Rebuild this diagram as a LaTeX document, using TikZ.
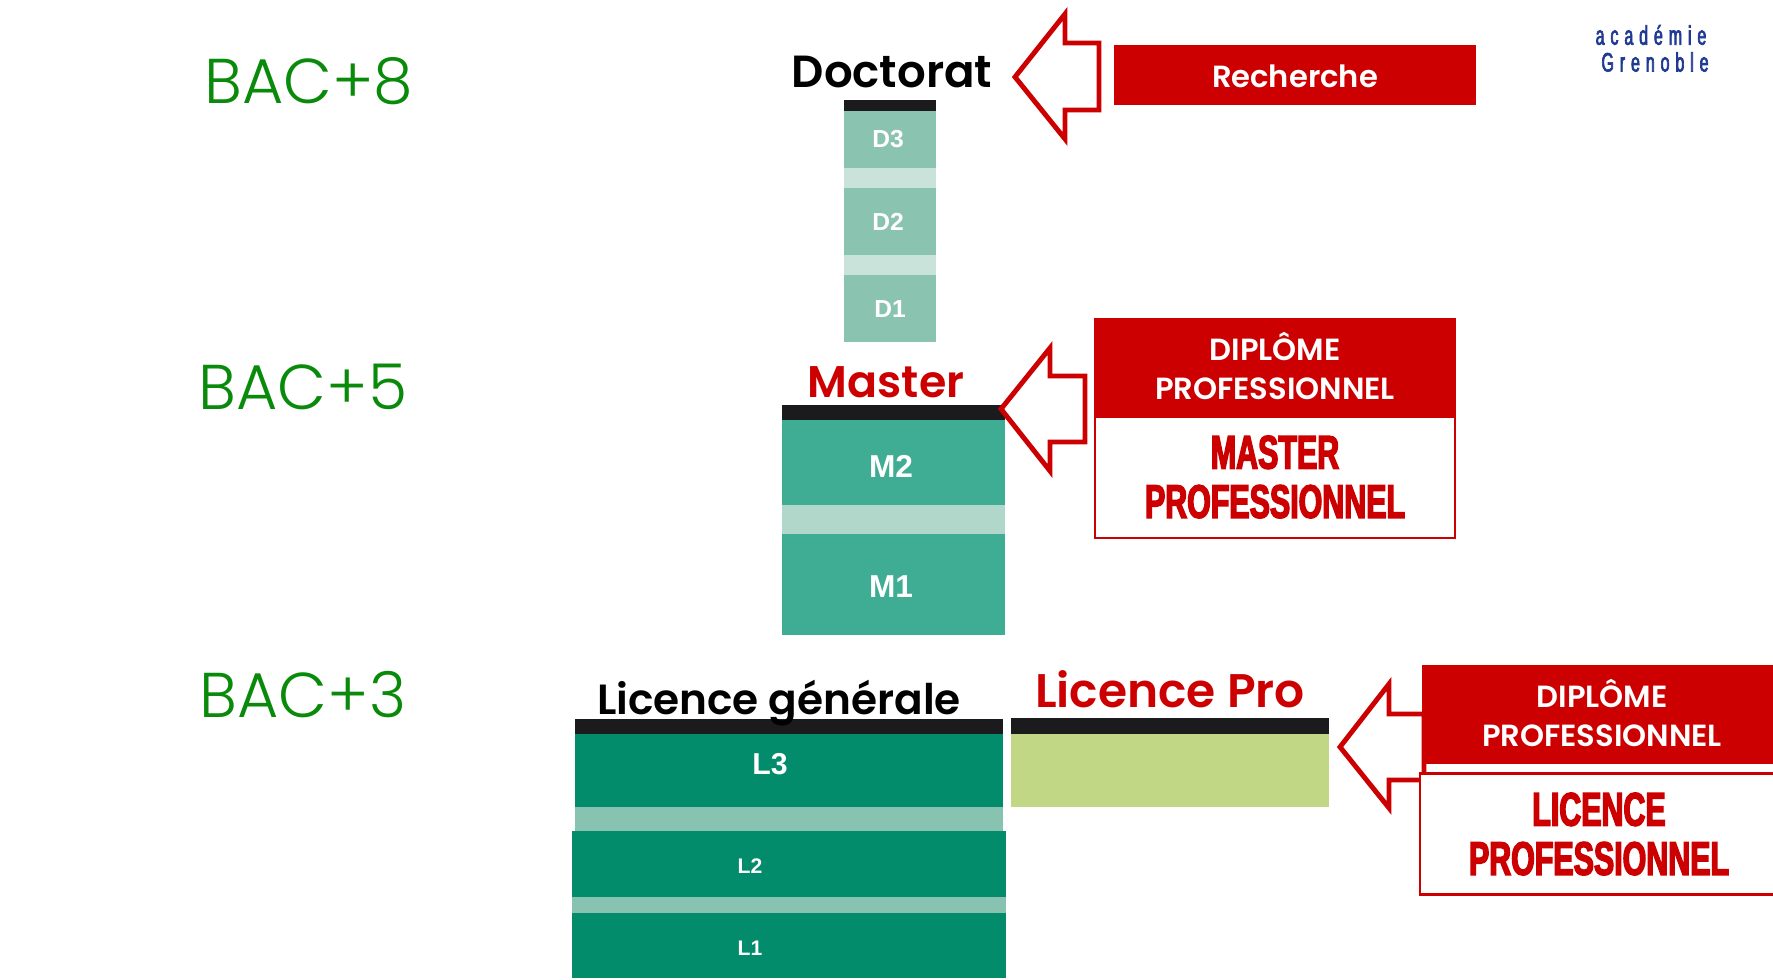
\documentclass[tikz,border=0pt]{standalone}
\usepackage{fontspec}
\setmainfont{Poppins}
\newfontfamily\bacfont{Poppins Light}
\newfontfamily\titlefont{Poppins SemiBold}
\newfontfamily\armfont{Liberation Sans}
\newfontfamily\impactfont[FakeStretch=.645,FakeBold=3]{Liberation Sans}
\newfontfamily\logofont[FakeStretch=.6,LetterSpace=22,FakeBold=2.5]{Liberation Sans}
\definecolor{redbac}{HTML}{CC0000}
\definecolor{greenbac}{HTML}{0A8A0A}
\definecolor{barblack}{HTML}{1B1A1D}
\definecolor{doccol}{HTML}{8AC4B0}
\definecolor{docgap}{HTML}{C9E2DA}
\definecolor{mascol}{HTML}{3FAD94}
\definecolor{masgap}{HTML}{B0D7C9}
\definecolor{liccol}{HTML}{028C6C}
\definecolor{licgap}{HTML}{87C3B0}
\definecolor{procol}{HTML}{C1D786}
\definecolor{logoblue}{HTML}{1F3A93}
\begin{document}
\begin{tikzpicture}[x=.01cm,y=-.01cm,
  bar node/.style={rectangle,inner sep=0pt,outer sep=0pt,draw=none},
  bac node/.style={inner sep=0pt,text=greenbac,font=\fontsize{18}{20}\bacfont},
  title node/.style={inner sep=0pt,font=\fontsize{12.8}{14}\titlefont},
  year node/.style={inner sep=0pt,text=white,font=\armfont\bfseries},
  head node/.style={inner sep=0pt,text=white,align=center,font=\fontsize{8.7}{10.9}\titlefont},
  impact node/.style={inner sep=0pt,text=redbac,align=center,font=\fontsize{13.4}{14}\impactfont\bfseries},
  arrow/.style={draw=redbac,line width=1.4pt,fill=white,miter limit=10}]
\useasboundingbox (0,0) rectangle (1773,980);
% level labels
\node[bac node] (bac8) at (309,81) {BAC+8};
\node[bac node] (bac5) at (303,387) {BAC+5};
\node[bac node] (bac3) at (303,695) {BAC+3};
% doctorat
\begin{scope}[every node/.style={bar node,minimum width=.92cm}]
\node[fill=barblack,minimum height=.11cm] (dtop) at (890,106) {};
\node[fill=doccol,minimum height=.57cm] (d3) at (890,140) {};
\node[fill=docgap,minimum height=.20cm] (dgap3) at (890,178.5) {};
\node[fill=doccol,minimum height=.67cm] (d2) at (890,222) {};
\node[fill=docgap,minimum height=.20cm] (dgap2) at (890,265.5) {};
\node[fill=doccol,minimum height=.67cm] (d1) at (890,308.5) {};
\end{scope}
% master
\begin{scope}[every node/.style={bar node,minimum width=2.23cm}]
\node[fill=barblack,minimum height=.15cm] (mtop) at (893.5,413) {};
\node[fill=mascol,minimum height=.85cm] (m2) at (893.5,463) {};
\node[fill=masgap,minimum height=.29cm] (mgap) at (893.5,520) {};
\node[fill=mascol,minimum height=1cm] (m1) at (893.5,584.5) {};
\end{scope}
% licence
\begin{scope}[every node/.style={bar node,minimum width=4.28cm}]
\node[fill=barblack,minimum height=.15cm] (ltop) at (789,727) {};
\node[fill=liccol,minimum height=.73cm] (l3) at (789,771) {};
\node[fill=licgap,minimum height=.24cm] (lgap3) at (789,819.5) {};
\end{scope}
\begin{scope}[every node/.style={bar node,minimum width=4.34cm}]
\node[fill=liccol,minimum height=.66cm] (l2) at (789,864.5) {};
\node[fill=licgap,minimum height=.16cm] (lgap2) at (789,905.5) {};
\node[fill=liccol,minimum height=.64cm] (l1) at (789,945.5) {};
\end{scope}
\node[bar node,fill=barblack,minimum width=3.18cm,minimum height=.16cm] (ptop) at (1170,726.5) {};
\node[bar node,fill=procol,minimum width=3.18cm,minimum height=.72cm] (pro) at (1170,770.5) {};
% years
\begin{scope}[every node/.style={year node}]
\node[font=\armfont\bfseries\fontsize{7}{8}\selectfont] at (888,139) {D3};
\node[font=\armfont\bfseries\fontsize{7}{8}\selectfont] at (888,222) {D2};
\node[font=\armfont\bfseries\fontsize{7}{8}\selectfont] at (890,309) {D1};
\node[font=\armfont\bfseries\fontsize{9}{10}\selectfont] at (891,466) {M2};
\node[font=\armfont\bfseries\fontsize{9}{10}\selectfont] at (891,587) {M1};
\node[font=\armfont\bfseries\fontsize{8.6}{10}\selectfont] at (770,764) {L3};
\node[font=\armfont\bfseries\fontsize{6}{7}\selectfont] at (750,866) {L2};
\node[font=\armfont\bfseries\fontsize{6}{7}\selectfont] at (750,948) {L1};
\end{scope}
% titles
\node[title node,text=black] (doc) at (892,72) {Doctorat};
\node[title node,text=redbac,font=\fontsize{12.6}{14}\titlefont] (mas) at (886,382) {Master};
\node[title node,text=black,font=\fontsize{12}{14}\titlefont] (lgen) at (779,703) {Licence générale};
\node[title node,text=redbac,font=\fontsize{13.4}{14}\titlefont] (lpro) at (1170,689) {Licence Pro};
% arrows
\draw[arrow] (1015,77) -- (1065,14) -- (1065,43) -- (1099,43) -- (1099,110) -- (1065,110) -- (1065,139) -- cycle;
\draw[arrow] (1001,409) -- (1050,348) -- (1050,376) -- (1085,376) -- (1085,442) -- (1050,442) -- (1050,471) -- cycle;
\draw[arrow] (1340,747) -- (1389,684) -- (1389,714) -- (1424,714) -- (1424,780) -- (1389,780) -- (1389,808) -- cycle;
% boxes
\node[bar node,fill=redbac,minimum width=3.62cm,minimum height=.6cm] (rech) at (1295,75) {};
\node[head node] at (1295,76) {Recherche};
\node[bar node,draw=redbac,line width=.6pt,fill=white,minimum width=3.6cm,minimum height=2.18cm] (mbox) at (1275,429) {};
\node[bar node,fill=redbac,minimum width=3.62cm,minimum height=.99cm] (mhead) at (1275,368) {};
\node[head node] at (1275,366) {DIPLÔME\\PROFESSIONNEL};
\node[impact node] at (1275,477) {MASTER\\PROFESSIONNEL};
\node[bar node,draw=redbac,line width=.6pt,fill=white,minimum width=3.7cm,minimum height=1.21cm] (lbox) at (1605,834) {};
\node[bar node,fill=redbac,minimum width=3.6cm,minimum height=.98cm] (lhead) at (1602,714.5) {};
\node[head node] at (1602,713) {DIPLÔME\\PROFESSIONNEL};
\node[impact node] at (1599,834) {LICENCE\\PROFESSIONNEL};
% logo
\node[inner sep=0pt,text=logoblue,font=\logofont\fontsize{7.6}{8}\selectfont] (logoa) at (1651,35) {académie};
\node[inner sep=0pt,text=logoblue,font=\logofont\fontsize{7.6}{8}\selectfont] (logob) at (1655,62) {Grenoble};
\end{tikzpicture}
\end{document}
